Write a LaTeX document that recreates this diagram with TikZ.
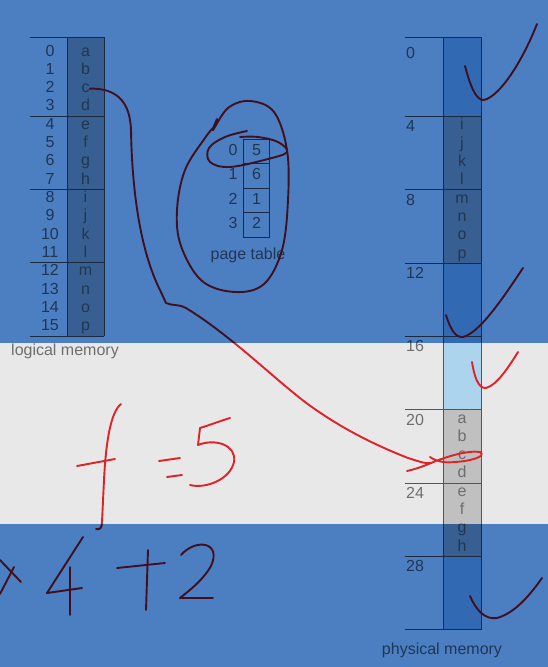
\documentclass[tikz,border=0pt]{standalone}
\usepackage{fontspec}
\setmainfont{Liberation Sans}
\definecolor{washblue}{RGB}{75,127,194}
\definecolor{bandgray}{RGB}{232,232,232}
\definecolor{cellgray}{RGB}{192,192,192}
\definecolor{freeblue}{RGB}{172,212,236}
\definecolor{rulegray}{RGB}{85,85,85}
\definecolor{textgray}{RGB}{110,110,110}
\definecolor{inkred}{RGB}{222,34,40}
\tikzset{
  cell/.style={text=textgray, font=\fontsize{16}{19}\selectfont, inner sep=0pt, text height=11pt, text depth=3pt},
  rule/.style={draw=rulegray, line width=0.9pt},
  ink/.style={draw=inkred, line width=1.9pt, line cap=round, line join=round}
}
\begin{document}
\begin{tikzpicture}[x=1pt,y=-1pt]
  \useasboundingbox (0,0) rectangle (548,667);
  \fill[white] (0,0) rectangle (548,667);
  \fill[bandgray] (0,343) rectangle (548,524);

  % logical memory
  \fill[cellgray] (67,37) rectangle (104,336);
  \foreach \y in {37,116,189.3,262.7,336} \draw[rule] (30,\y) -- (104,\y);
  \draw[rule] (67,37) -- (67,336);
  \draw[rule] (104,37) -- (104,336);
  \foreach \ch [count=\r from 0] in {a,b,c,d,e,f,g,h,i,j,k,l,m,n,o,p} {
    \node[cell] (n\r) at (50,{52+18.33*\r}) {\r};
    \node[cell] (l\ch) at (85.5,{52+18.33*\r}) {\ch};
  }
  \node[cell] (lname) at (65,351) {logical memory};

  % page table
  \foreach \f [count=\p from 0] in {5,6,1,2} {
    \node[cell] (pg\p) at (233,{151.25+24.5*\p}) {\p};
    \node[cell, draw=rulegray, line width=0.9pt, minimum width=26pt, minimum height=24.5pt] (fr\p) at (256.5,{151.25+24.5*\p}) {\f};
  }
  \node[cell] (ptname) at (248,255) {page table};

  % physical memory
  \foreach \k/\col in {0/freeblue,1/cellgray,2/cellgray,3/freeblue,4/freeblue,5/cellgray,6/cellgray,7/freeblue}
    \fill[\col] (443,{ifthenelse(\k==0,37,43.3+73.3*\k)}) rectangle (481,{43.3+73.3*(\k+1)});
  \foreach \y in {37,116.6,189.9,263.2,336.5,409.8,483.1,556.4,629.7} \draw[rule] (405,\y) -- (481,\y);
  \draw[rule] (443,37) -- (443,629.7);
  \draw[rule] (481,37) -- (481,629.7);
  \foreach \k [evaluate=\k as \addr using int(4*\k)] in {0,...,7}
    \node[cell, anchor=west] (fn\k) at (406,{54.5+73.3*\k}) {\addr};
  \foreach \ch [count=\i from 0] in {i,j,k,l,m,n,o,p} \node[cell] (p\ch) at (462,{125.8+18.33*\i}) {\ch};
  \foreach \ch [count=\i from 0] in {a,b,c,d,e,f,g,h} \node[cell] (p\ch) at (462,{419+18.33*\i}) {\ch};
  \node[cell] (pname) at (442,650) {physical memory};

  % handwriting
  \coordinate (tip) at (431,463);
  \draw[ink] (lc.east) .. controls (115,88) and (130,100) .. (131,130)
    .. controls (132,190) and (140,250) .. (160,290) -- (166,303)
    .. controls (172,306) and (180,304) .. (186,308)
    .. controls (230,335) and (270,375) .. (305,402)
    .. controls (340,428) and (375,445) .. (408,458)
    .. controls (418,461) and (425,464) .. (tip);
  \draw[ink] (407,471) .. controls (416,469) and (424,466) .. (tip)
    .. controls (445,457) and (468,450) .. (480,452)
    .. controls (487,456) and (472,461) .. (455,462)
    .. controls (446,463) and (437,462) .. (430,457);
  \draw[ink] plot[smooth, tension=0.6] coordinates {(217,119) (213,130) (228,108) (250,101) (274,112) (287,150) (288,200) (282,250) (264,284) (235,292) (202,281) (181,246) (177,210) (185,170) (205,138) (213,128)};
  \draw[ink] plot[smooth, tension=0.6] coordinates {(247,131) (225,137) (209,148) (210,162) (230,167) (268,159) (287,152) (278,142) (258,137) (240,137)};
  \draw[ink] (465,66) .. controls (470,85) and (476,101) .. (484,100) .. controls (500,96) and (522,62) .. (537,24);
  \draw[ink] (446,315) .. controls (450,328) and (455,338) .. (463,337) .. controls (480,333) and (505,295) .. (523,268);
  \draw[ink] (472,362) .. controls (474,375) and (478,389) .. (486,388) .. controls (497,385) and (508,368) .. (518,352);
  \draw[ink] (470,596) .. controls (476,610) and (485,620) .. (497,618) .. controls (515,613) and (530,595) .. (542,578);
  \draw[ink] (121,404) .. controls (111,412) and (106,440) .. (104,480) -- (102,522) .. controls (102,528) and (100,530) .. (96,529);
  \draw[ink] (77,466) -- (115,459);
  \draw[ink] (159,461) -- (180,458);
  \draw[ink] (167,477) -- (182,475);
  \draw[ink] (230,418) .. controls (220,421) and (210,425) .. (200,428) -- (198,445)
    .. controls (215,438) and (237,445) .. (234,462) .. controls (230,480) and (205,489) .. (190,485);
  \draw[ink] (0,560) -- (21,582);
  \draw[ink] (0,594) -- (14,567);
  \draw[ink] (83,537) -- (47,593) -- (82,588);
  \draw[ink] (70,567) -- (70,615);
  \draw[ink] (117,568) -- (165,563);
  \draw[ink] (148,550) -- (146,610);
  \draw[ink] (181,555) .. controls (196,538) and (222,542) .. (211,566) .. controls (203,580) and (190,590) .. (180,598) -- (213,598);

  % blue wash
  \fill[washblue, blend mode=multiply] (0,0) rectangle (548,343);
  \fill[washblue, blend mode=multiply] (0,524) rectangle (548,667);
\end{tikzpicture}
\end{document}
